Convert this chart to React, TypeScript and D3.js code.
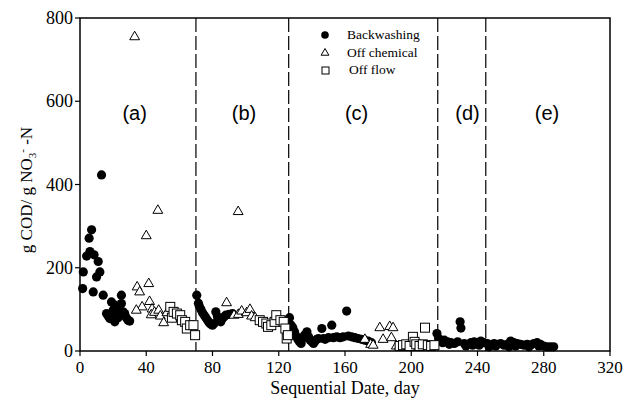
import * as d3 from 'd3'

// [day, g COD / g NO3-N]
const backwashing: [number, number][] = [
  [1.6, 150], [2, 190], [4, 228], [5.5, 271], [7, 291], [6, 239], [8.5, 231], [8, 142],
  [10, 178], [11, 215], [12, 190], [13, 423], [14, 134], [16, 90], [17, 84], [18, 78],
  [19, 118], [20, 98], [21, 70], [21, 110], [22, 88], [23, 80], [24, 98], [25, 134],
  [25, 114], [26, 94], [27, 90], [28, 80], [29, 74], [30, 72],
  [70.5, 134], [71.5, 115], [72, 108], [73, 100], [74, 92], [75, 86], [76, 80], [77, 74],
  [78, 68], [79, 64], [80, 62], [81, 66], [82, 94], [83, 82], [84, 74], [85, 70],
  [86, 78], [87, 82], [88, 86], [90, 88], [92, 90],
  [126.5, 80], [127.5, 62], [128.5, 56], [129.5, 46], [130.5, 36], [131.5, 28], [132.5, 22],
  [133.5, 18], [134.5, 30], [135.5, 38], [137, 46], [138, 34], [139, 26], [140, 22],
  [141, 18], [142, 24], [143, 28], [144, 30], [146, 54], [147, 30], [148, 28], [150, 32],
  [152, 62], [153, 32], [155, 34], [157, 32], [159, 34], [161, 96], [162, 36], [164, 34],
  [166, 32], [168, 30], [170, 28], [172, 26], [174, 24], [176, 20],
  [196, 14], [200, 12], [204, 14], [208, 12], [212, 14],
  [215.5, 42], [216.5, 30], [218, 24], [219, 20], [220, 26], [222, 22], [223, 16], [224, 20],
  [226, 18], [228, 22], [229.5, 70], [230, 55], [232, 18], [233, 12], [234, 16], [236, 20],
  [237, 14], [238, 22], [240, 20], [241, 14], [242, 24], [244, 20], [246, 18], [247, 10],
  [248, 14], [250, 18], [251, 12], [252, 16], [254, 18], [256, 14], [258, 16], [259, 10],
  [260, 24], [262, 20], [263, 12], [264, 18], [266, 16], [268, 14], [270, 16], [271, 10],
  [272, 14], [274, 18], [276, 20], [277, 12], [278, 16], [280, 12], [282, 10], [284, 10],
  [286, 10],
]

const offChemical: [number, number][] = [
  [33, 757], [47, 340], [40, 279], [41.5, 164], [34.5, 156], [36, 144], [37.5, 108],
  [34, 100], [42, 121], [43.5, 103], [43, 89], [45, 95], [47.5, 100], [48.5, 86],
  [50.5, 70], [52.5, 94],
  [88.5, 118], [95.5, 337], [93, 88], [95.6, 90], [97.6, 98], [100.6, 94], [102.6, 102],
  [103.6, 86], [105.7, 82],
  [172, 30], [175.5, 18], [177, 16], [181, 58], [183, 30], [187, 61], [189, 58],
  [188, 34], [191, 14], [193, 14],
]

const offFlow: [number, number][] = [
  [54.5, 106], [55.5, 80], [56.5, 94], [58.5, 90], [60.5, 86], [61.5, 74], [63.5, 70],
  [64.5, 54], [66.5, 62], [68.5, 62], [69.5, 38],
  [108.5, 74], [110.5, 70], [112.5, 66], [113.5, 58], [115.5, 62], [117.5, 70],
  [118.5, 86], [121, 74], [123, 70], [124, 54], [124.8, 30], [125.5, 38],
  [193, 12], [195, 14], [197, 16], [199, 12], [201, 34], [202, 22], [203, 16], [205, 12],
  [207, 16], [208.3, 56], [210, 14], [212, 12], [214, 14],
]

const phaseBreaks = [70, 126, 216, 245]
const phaseLabels = ['(a)', '(b)', '(c)', '(d)', '(e)']
const phaseLabelX = [33, 99, 167, 234, 282]
const xTicks = [0, 40, 80, 120, 160, 200, 240, 280, 320]
const yTicks = [0, 200, 400, 600, 800]

const W = 637
const H = 398
const m = { top: 18, right: 27, bottom: 47, left: 80 }
const serif = '"Liberation Serif", "Times New Roman", serif'
const sans = '"Liberation Sans", Arial, sans-serif'

export default function App() {
  const x = d3.scaleLinear().domain([0, 320]).range([m.left, W - m.right])
  const y = d3.scaleLinear().domain([0, 800]).range([H - m.bottom, m.top])
  const tri = d3.symbol().type(d3.symbolTriangle).size(42)()
  const triSmall = d3.symbol().type(d3.symbolTriangle).size(26)()
  const x0 = x(0), x1 = x(320), y0 = y(0), y1 = y(800)

  return (
    <div style={{ position: 'absolute', left: 0, top: 0 }}>
      <svg width={W} height={H} style={{ display: 'block', background: '#fff' }}>
        {phaseBreaks.map(d => (
          <line key={d} x1={x(d)} x2={x(d)} y1={y1} y2={y0}
            stroke="#000" strokeWidth={1.2} strokeDasharray="14,4" />
        ))}
        {phaseLabels.map((t, i) => (
          <text key={t} x={x(phaseLabelX[i])} y={y(555)} textAnchor="middle"
            fontFamily={sans} fontSize={20}>{t}</text>
        ))}

        {backwashing.map(([d, v], i) => (
          <circle key={'b' + i} cx={x(d)} cy={y(v)} r={4.6} fill="#000" />
        ))}
        {offChemical.map(([d, v], i) => (
          <path key={'c' + i} d={tri ?? ''} transform={`translate(${x(d)},${y(v) + 1})`}
            fill="#fff" stroke="#000" strokeWidth={1} />
        ))}
        {offFlow.map(([d, v], i) => (
          <rect key={'f' + i} x={x(d) - 4.5} y={y(v) - 4.5} width={9} height={9}
            fill="#fff" stroke="#000" strokeWidth={1} />
        ))}

        <rect x={x0} y={y1} width={x1 - x0} height={y0 - y1} fill="none" stroke="#000" strokeWidth={1.5} />
        {xTicks.map(t => (
          <g key={t}>
            <line x1={x(t)} x2={x(t)} y1={y0} y2={y0 + 5} stroke="#000" strokeWidth={1.2} />
            <text x={x(t)} y={y0 + 22} textAnchor="middle" fontFamily={serif} fontSize={17}>{t}</text>
          </g>
        ))}
        {yTicks.map(t => (
          <g key={t}>
            <line x1={x0 - 5} x2={x0} y1={y(t)} y2={y(t)} stroke="#000" strokeWidth={1.2} />
            <text x={x0 - 7} y={y(t) + 6} textAnchor="end" fontFamily={serif} fontSize={18}>{t}</text>
          </g>
        ))}

        <text x={(x0 + x1) / 2} y={394} textAnchor="middle" fontFamily={serif} fontSize={18}>
          Sequential Date, day
        </text>
        <text transform={`translate(32,190) rotate(-90)`} textAnchor="middle" fontFamily={serif} fontSize={17}>
          g COD/ g NO<tspan fontSize={11} dy={4}>3</tspan>
          <tspan fontSize={11} dy={-10}>-</tspan>
          <tspan dy={6}> -N</tspan>
        </text>

        <g fontFamily={serif} fontSize={13.5}>
          <circle cx={325} cy={35} r={3.8} fill="#000" />
          <text x={347} y={39}>Backwashing</text>
          <path d={triSmall ?? ''} transform="translate(325,53)" fill="#fff" stroke="#000" />
          <text x={347} y={57}>Off chemical</text>
          <rect x={322} y={67} width={7} height={7} fill="#fff" stroke="#000" />
          <text x={349} y={74}>Off flow</text>
        </g>
      </svg>
    </div>
  )
}
